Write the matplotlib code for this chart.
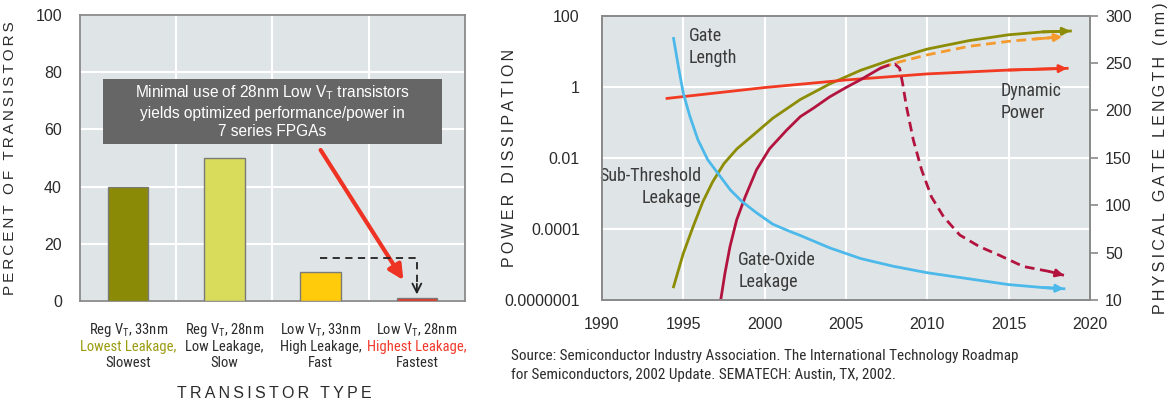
import os
import numpy as np
import matplotlib
matplotlib.use("Agg")
import matplotlib.pyplot as plt
from matplotlib import font_manager
from matplotlib.font_manager import FontProperties
from matplotlib.patches import Rectangle
from matplotlib.transforms import blended_transform_factory

plt.rcParams['font.family'] = ['Liberation Sans', 'DejaVu Sans']

# ---- left chart data
bar_values = [40, 50, 10, 1]
bar_colors = ['#8a8a06', '#d9db5b', '#ffcb0b', '#ec3526']
bar_line1 = ['Reg V$_\\mathregular{T}$, 33nm', 'Reg V$_\\mathregular{T}$, 28nm',
             'Low V$_\\mathregular{T}$, 33nm', 'Low V$_\\mathregular{T}$, 28nm']
bar_line2 = ['Lowest Leakage,', 'Low Leakage,', 'High Leakage,', 'Highest Leakage,']
bar_line3 = ['Slowest', 'Slow', 'Fast', 'Fastest']
line2_colors = ['#9c9c12', '#2b2b2b', '#2b2b2b', '#f2392b']

# ---- right chart data (power dissipation, left axis)
years_sub = [1994.4, 1995.0, 1995.6, 1996.2, 1996.8, 1997.5, 1998.3, 1999.3, 2000.5,
             2002.2, 2004.0, 2005.9, 2007.9, 2010.0, 2012.6, 2015.0, 2017.1, 2018.8]
sub_leak = [3.6e-7, 9.3e-6, 1.15e-4, 5.8e-4, 2.1e-3, 6.9e-3, 0.018, 0.044, 0.13,
            0.44, 1.2, 2.9, 6.0, 11.5, 20, 29, 35, 37]

years_sub_proj = [2007.2, 2008.5, 2010.0, 2011.3, 2012.6, 2015.0, 2016.6, 2018.3]
sub_proj = [3.6, 5.3, 7.9, 10.5, 13.8, 19, 22, 25.5]

years_dyn = [1994.0, 2000.0, 2005.0, 2010.0, 2015.0, 2018.6]
dyn_power = [0.47, 0.95, 1.55, 2.3, 2.95, 3.3]

years_ox = [1997.3, 1997.56, 1997.87, 1998.28, 1998.8, 1999.5, 2000.3, 2001.35, 2002.2,
            2003.0, 2004.0, 2005.0, 2005.9, 2007.1]
ox_leak = [1e-7, 1.35e-6, 1.8e-5, 1.8e-4, 7.9e-4, 4.6e-3, 0.018, 0.06, 0.145,
           0.25, 0.52, 0.95, 1.58, 3.3]

years_ox_proj = [2007.1, 2007.6, 2008.0, 2008.3, 2008.48, 2008.72, 2009.14, 2009.65, 2010.26,
                 2011.0, 2012.0, 2013.2, 2014.4, 2015.9, 2017.5, 2018.4]
ox_proj = [3.3, 4.0, 4.4, 3.3, 1.26, 0.275, 0.032, 4.6e-3, 7.9e-4,
           2.2e-4, 5.5e-5, 1.8e-5, 7.9e-6, 2.6e-6, 1.6e-6, 1.1e-6]

# gate length (nm, right axis)
years_gate = [1994.4, 1994.7, 1995.0, 1995.4, 1995.9, 1996.5, 1997.2, 1997.9, 1998.6,
              1999.5, 2000.5, 2001.6, 2002.2, 2004.0, 2005.9, 2007.9, 2010.0, 2012.0,
              2015.0, 2017.1, 2018.4]
gate_len = [276, 246, 218, 194, 169, 148, 132, 116, 104,
            92, 80, 72, 68, 55, 45, 38.5, 33, 29,
            23, 20.5, 19.5]

power_ticks = [1e-7, 1e-4, 1e-2, 1, 100]
power_labels = ['0.0000001', '0.0001', '0.01', '1', '100']
nm_ticks = [10, 50, 100, 150, 200, 250, 300]

BG = '#dfe5e6'
SPINE = '#8a8a8a'
TXT = '#2b2b2b'


def find_narrow():
    # the original uses a condensed sans for the small notes
    prefs = ['liberationsansnarrow-regular', 'robotocondensed-regular', 'notosans-condensed.',
             'opensans_condensed-regular', 'opensanscondensed', 'dejavusanscondensed.']
    files = [f.fname for f in font_manager.fontManager.ttflist]
    for p in prefs:
        for fn in files:
            if p in os.path.basename(fn).lower():
                return FontProperties(fname=fn), 1.0
    return FontProperties(family=['Liberation Sans', 'DejaVu Sans']), 0.84


NARROW, NSCALE = find_narrow()


def spaced(s):
    return '\u2009'.join(s)


# the original squeezes the lowest band (3 decades) and the 10-50 nm band
def fwd_power(y):
    ly = np.log10(np.clip(np.asarray(y, dtype=float), 1e-12, None))
    return np.where(ly >= -4, (ly + 4) / 2 + 1, (ly + 7) / 3)


def inv_power(u):
    u = np.asarray(u, dtype=float)
    return np.where(u >= 1, 10 ** (2 * (u - 1) - 4), 10 ** (3 * u - 7))


def fwd_nm(v):
    v = np.asarray(v, dtype=float)
    return np.where(v >= 50, 1 + (v - 50) / 50, (v - 10) / 40)


def inv_nm(r):
    r = np.asarray(r, dtype=float)
    return np.where(r >= 1, 50 + (r - 1) * 50, 10 + 40 * r)


fig = plt.figure(figsize=(11.73, 4.03), dpi=100)

# ================= left: bar chart
ax = fig.add_axes([0.0682, 0.2531, 0.3282, 0.7097])
ax.set_facecolor(BG)
x = np.arange(len(bar_values))
ax.bar(x, bar_values, width=0.42, color=bar_colors, edgecolor='#7a7a7a', linewidth=1.0, zorder=3)
ax.set_xlim(-0.5, 3.5)
ax.set_ylim(0, 100)
ax.set_yticks(range(0, 101, 20))
ax.set_xticks(x)
ax.set_xticklabels([])
ax.set_xticks([0.5, 1.5, 2.5], minor=True)
ax.grid(axis='y', color='white', lw=1.5)
ax.grid(axis='x', which='minor', color='white', lw=1.5)
ax.set_axisbelow(True)
ax.tick_params(axis='both', which='both', length=0)
ax.tick_params(axis='y', pad=13, labelsize=11.5, labelcolor=TXT)
for s in ax.spines.values():
    s.set_color(SPINE)
    s.set_linewidth(1.3)

trans = blended_transform_factory(ax.transData, ax.transAxes)
fs_bar = 10.5 * NSCALE
for i in range(len(bar_values)):
    ax.text(i, -0.101, bar_line1[i], transform=trans, ha='center', va='center',
            fontproperties=NARROW, fontsize=fs_bar, color=TXT)
    ax.text(i, -0.161, bar_line2[i], transform=trans, ha='center', va='center',
            fontproperties=NARROW, fontsize=fs_bar, color=line2_colors[i])
    ax.text(i, -0.217, bar_line3[i], transform=trans, ha='center', va='center',
            fontproperties=NARROW, fontsize=fs_bar, color=TXT)

ax.set_ylabel(spaced('PERCENT OF TRANSISTORS'), fontsize=11, color=TXT)
ax.yaxis.set_label_coords(-0.164, 0.5)
fig.text(274 / 1173, 1 - 394 / 403, spaced('TRANSISTOR TYPE'), ha='center', va='center',
         fontsize=11.5, color=TXT)

ax.add_patch(Rectangle((0.06, 0.549), 0.88, 0.227, transform=ax.transAxes,
                       facecolor='#676667', edgecolor='none', zorder=5))
ax.text(0.5, 0.6625, 'Minimal use of 28nm Low V$_\\mathregular{T}$ transistors\n'
        'yields optimized performance/power in\n7 series FPGAs',
        transform=ax.transAxes, ha='center', va='center', color='white',
        fontsize=11.2, linespacing=1.3, zorder=6)

ax.annotate('', xy=(2.86, 7.3), xytext=(2.0, 52.8),
            arrowprops=dict(arrowstyle='-|>', color='#ee3224', lw=3, mutation_scale=22,
                            shrinkA=0, shrinkB=0), zorder=6)
ax.plot([1.99, 3.0, 3.0], [15, 15, 5], color='#222222', lw=1.3, ls=(0, (4, 3)), zorder=6)
ax.annotate('', xy=(3.0, 2.3), xytext=(3.0, 6),
            arrowprops=dict(arrowstyle='->', color='#222222', lw=1.3, mutation_scale=16,
                            shrinkA=0, shrinkB=0), zorder=6)

# ================= right: power dissipation
ax = fig.add_axes([0.5132, 0.2556, 0.4160, 0.7055])
ax.set_facecolor(BG)
ax.set_yscale('function', functions=(fwd_power, inv_power))
ax.set_xlim(1990, 2020)
ax.set_ylim(1e-7, 100)
ax.set_yticks(power_ticks)
ax.set_yticklabels(power_labels)
ax.set_xticks(range(1990, 2021, 5))
ax.minorticks_off()
ax.grid(color='white', lw=1.5)
ax.set_axisbelow(True)
ax.tick_params(axis='both', length=0, labelsize=11.5, labelcolor=TXT)
ax.tick_params(axis='y', pad=16)
ax.tick_params(axis='x', pad=12)
for s in ax.spines.values():
    s.set_color(SPINE)
    s.set_linewidth(1.3)
ax.set_ylabel(spaced('POWER DISSIPATION'), fontsize=11.5, color=TXT)
ax.yaxis.set_label_coords(-0.174, 0.5)

lw = 2.0
OLIVE = '#8c8c05'
ORANGE = '#f59a2d'
RED = '#f23a23'
CRIMSON = '#b3143f'
BLUE = '#4cb9ea'


def end_arrow(axx, xs, ys, color):
    axx.annotate('', xy=(xs[-1], ys[-1]), xytext=(xs[-2], ys[-2]),
                 arrowprops=dict(arrowstyle='-|>', color=color, lw=lw, mutation_scale=11,
                                 shrinkA=0, shrinkB=0))


ax.plot(years_sub_proj, sub_proj, color=ORANGE, lw=lw, ls=(0, (3.5, 2)))
end_arrow(ax, years_sub_proj, sub_proj, ORANGE)
ax.plot(years_sub, sub_leak, color=OLIVE, lw=lw)
end_arrow(ax, years_sub, sub_leak, OLIVE)
ax.plot(years_dyn, dyn_power, color=RED, lw=lw)
end_arrow(ax, years_dyn, dyn_power, RED)
ax.plot(years_ox, ox_leak, color=CRIMSON, lw=lw)
ax.plot(years_ox_proj, ox_proj, color=CRIMSON, lw=lw, ls=(0, (3.5, 2)))
end_arrow(ax, years_ox_proj, ox_proj, CRIMSON)

lab = dict(fontproperties=NARROW, fontsize=13 * NSCALE, color='#3a3a3a', linespacing=1.3,
           transform=ax.transAxes)
ax.text(0.178, 0.89, 'Gate\nLength', ha='left', va='center', **lab)
ax.text(0.204, 0.397, 'Sub-Threshold\nLeakage', ha='right', va='center', multialignment='right', **lab)
ax.text(0.279, 0.102, 'Gate-Oxide\nLeakage', ha='left', va='center', **lab)
ax.text(0.817, 0.695, 'Dynamic\nPower', ha='left', va='center', **lab)

ax2 = ax.twinx()
ax2.set_yscale('function', functions=(fwd_nm, inv_nm))
ax2.set_ylim(10, 300)
ax2.set_yticks(nm_ticks)
ax2.minorticks_off()
ax2.plot(years_gate, gate_len, color=BLUE, lw=lw)
end_arrow(ax2, years_gate, gate_len, BLUE)
ax2.tick_params(axis='y', length=6, width=1.2, color=SPINE, labelsize=11.5, labelcolor=TXT, pad=5)
for s in ax2.spines.values():
    s.set_color(SPINE)
    s.set_linewidth(1.3)
ax2.set_ylabel(spaced('PHYSICAL GATE LENGTH (nm)'), fontsize=11.5, color=TXT, rotation=90)
ax2.yaxis.set_label_coords(1.13, 0.5)

fig.text(511 / 1173, 1 - 365.5 / 403,
         'Source: Semiconductor Industry Association. The International Technology Roadmap\n'
         'for Semiconductors, 2002 Update. SEMATECH: Austin, TX, 2002.',
         ha='left', va='center', fontproperties=NARROW, fontsize=10.9 * NSCALE, color=TXT,
         linespacing=1.5)

fig.savefig('out.png', dpi=100, facecolor='white')
